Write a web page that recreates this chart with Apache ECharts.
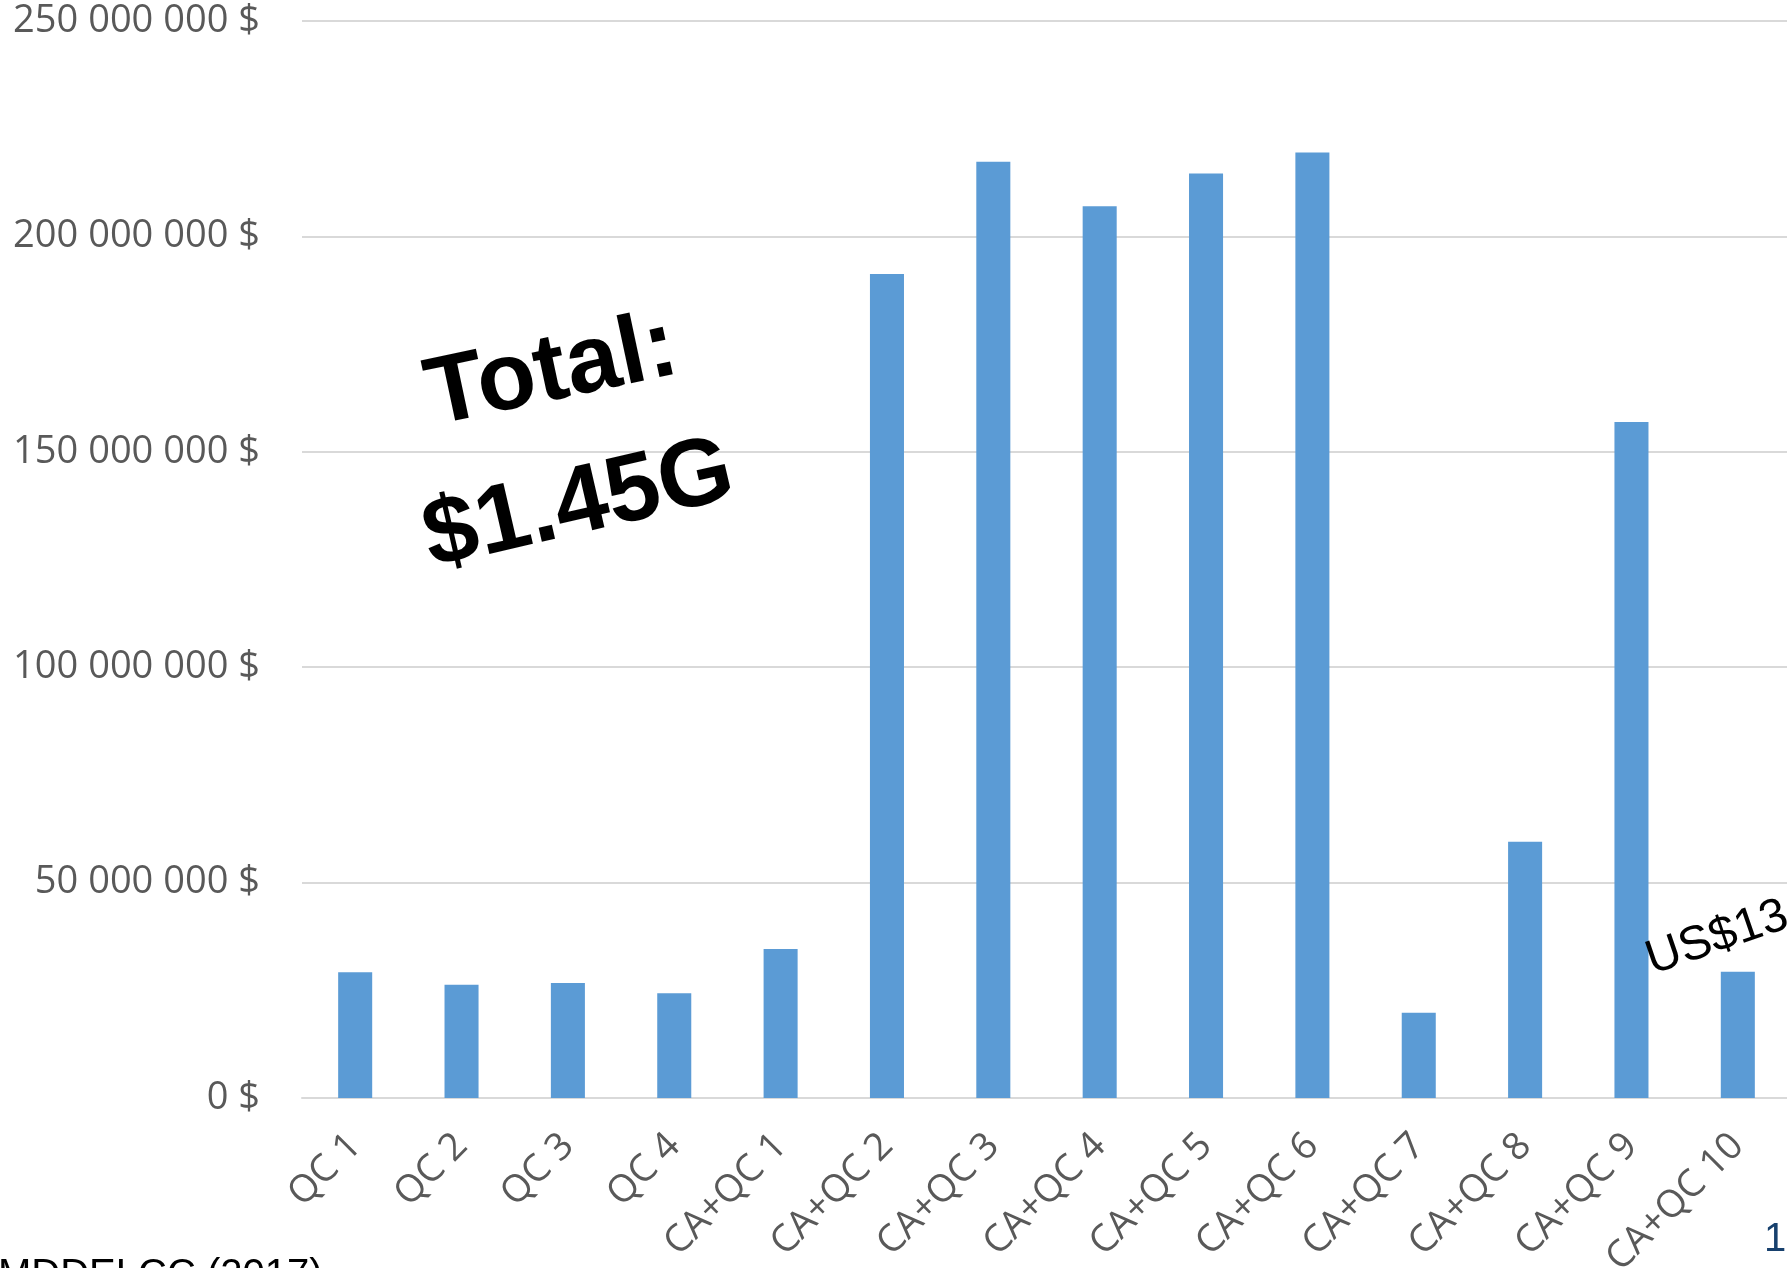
<!DOCTYPE html>
<html>
<head>
<meta charset="utf-8">
<script src="https://cdn.jsdelivr.net/npm/echarts@6/dist/echarts.min.js"></script>
<style>
html,body{margin:0;padding:0;background:#fff;}
#chart{width:1787px;height:1268px;}
</style>
</head>
<body>
<div id="chart"></div>
<script>
const categories = ['QC 1','QC 2','QC 3','QC 4','CA+QC 1','CA+QC 2','CA+QC 3','CA+QC 4','CA+QC 5','CA+QC 6','CA+QC 7','CA+QC 8','CA+QC 9','CA+QC 10'];
const costs = [29200000, 26300000, 26700000, 24300000, 34600000, 191300000, 217300000, 207000000, 214600000, 219500000, 19800000, 59500000, 156900000, 29300000];
const yTicks = {min: 0, max: 250000000, interval: 50000000};
const annotations = {total: 'Total:', totalValue: '$1.45G', side: 'US$13', source: 'MDDELCC (2017)', page: '1'};

function fmt(v){
  return String(v).replace(/\B(?=(\d{3})+(?!\d))/g, ' ') + ' $';
}

const chart = echarts.init(document.getElementById('chart'), null, {renderer: 'canvas'});
const deg = Math.PI / 180;
chart.setOption({
  animation: false,
  backgroundColor: '#ffffff',
  grid: {left: 302, right: -4, top: 21, bottom: 170, containLabel: false, outerBoundsMode: 'none'},
  xAxis: {
    type: 'category',
    data: categories,
    axisLine: {show: true, lineStyle: {color: '#D9D9D9', width: 2}},
    axisTick: {show: false},
    axisLabel: {
      rotate: 45,
      margin: 42,
      verticalAlign: 'middle',
      color: '#595959',
      fontFamily: 'Open Sans',
      fontSize: 38,
      interval: 0
    }
  },
  yAxis: {
    type: 'value',
    min: yTicks.min,
    max: yTicks.max,
    interval: yTicks.interval,
    axisLine: {show: false},
    axisTick: {show: false},
    splitLine: {lineStyle: {color: '#D9D9D9', width: 2}},
    axisLabel: {
      formatter: fmt,
      margin: 42,
      color: '#595959',
      fontFamily: 'Open Sans',
      fontSize: 38
    }
  },
  series: [{
    type: 'bar',
    data: costs,
    barWidth: '32%',
    itemStyle: {color: '#5B9BD5'}
  }],
  graphic: [
    {type: 'text', x: 552, y: 373, rotation: 12 * deg, z: 10,
      style: {text: annotations.total, fill: '#000', font: 'bold 96px "Liberation Sans", Arial, sans-serif', align: 'center', verticalAlign: 'middle'}},
    {type: 'text', x: 579, y: 506, rotation: 13 * deg, z: 10,
      style: {text: annotations.totalValue, fill: '#000', font: 'bold 96px "Liberation Sans", Arial, sans-serif', align: 'center', verticalAlign: 'middle'}},
    {type: 'text', x: 1648, y: 962, rotation: 19 * deg, z: 10,
      style: {text: annotations.side, fill: '#000', font: '48px "Liberation Sans", Arial, sans-serif', align: 'left', verticalAlign: 'middle'}},
    {type: 'text', x: -2, y: 1276, z: 10,
      style: {text: annotations.source, fill: '#000', font: '40px "Liberation Sans", Arial, sans-serif', align: 'left', verticalAlign: 'middle'}},
    {type: 'text', x: 1764, y: 1240, z: 10,
      style: {text: annotations.page, fill: '#17406D', font: '40px "Liberation Sans", Arial, sans-serif', align: 'left', verticalAlign: 'middle'}}
  ]
});
</script>
</body>
</html>
